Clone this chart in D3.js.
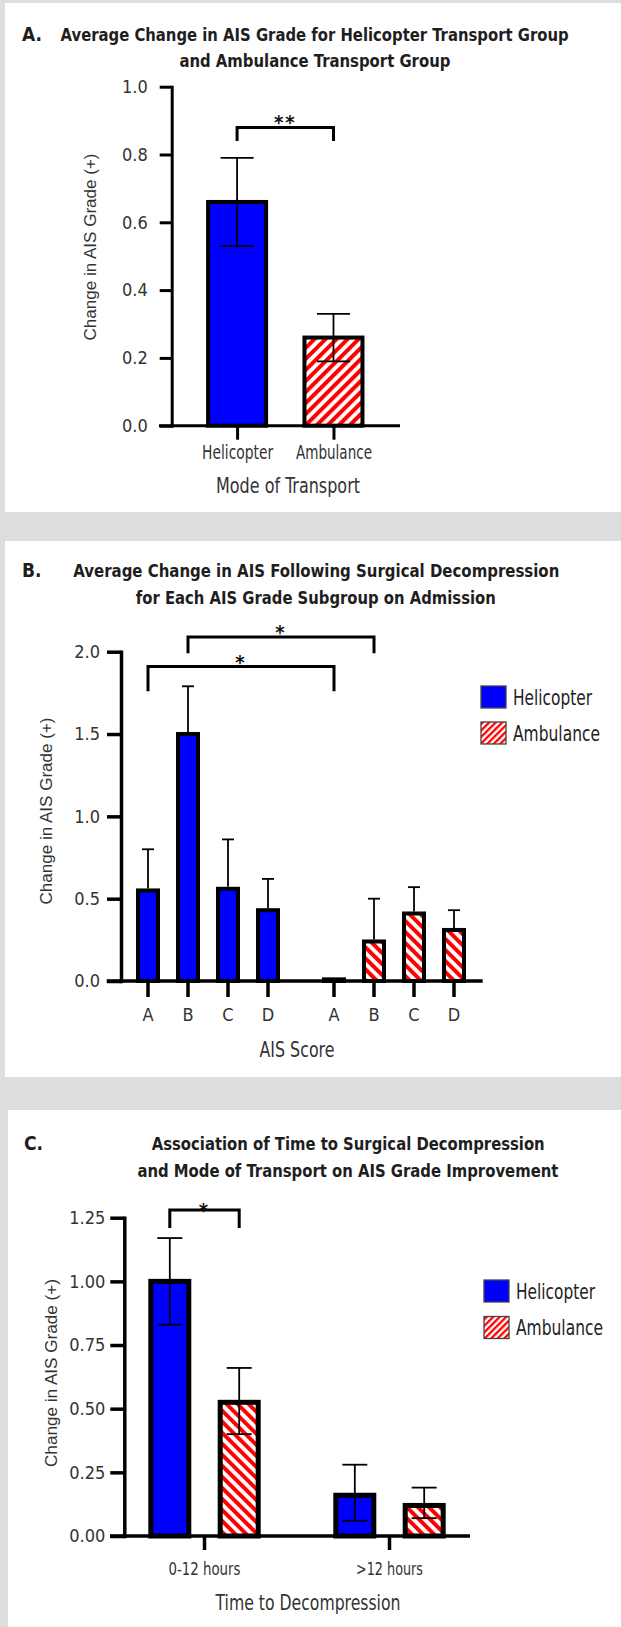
<!DOCTYPE html>
<html>
<head>
<meta charset="utf-8">
<script src="https://cdn.jsdelivr.net/npm/d3@7"></script>
<style>
  body { margin: 0; background: #dcdddf; }
  svg { display: block; }
</style>
</head>
<body>
<div id="chart"></div>
<script>
const NARROW = '"Liberation Sans Narrow", "DejaVu Sans Condensed", sans-serif';
const REGULAR = '"Liberation Sans", "DejaVu Sans", sans-serif';
const BLUE = '#0000ff';
const RED = '#ff0000';

// ---- data: panel A (mode of transport)
const transportModes = ['Helicopter', 'Ambulance'];
const modeMeans = [0.66, 0.26];
const modeErrLow = [0.53, 0.19];
const modeErrHigh = [0.79, 0.33];
const modeTicks = [0, 0.2, 0.4, 0.6, 0.8, 1.0];
const modeSig = [{ from: 'Helicopter', to: 'Ambulance', top: 0.88, leg: 0.84, mark: '**' }];

// ---- data: panel B (AIS grade on admission)
const aisGrades = ['A', 'B', 'C', 'D'];
const heliByGrade = [0.55, 1.50, 0.56, 0.43];
const heliByGradeErr = [0.80, 1.79, 0.86, 0.62];
const ambByGrade = [0.01, 0.24, 0.41, 0.31];
const ambByGradeErr = [null, 0.50, 0.57, 0.43];
const gradeTicks = [0, 0.5, 1.0, 1.5, 2.0];
const gradeSig = [
  { from: ['Helicopter', 'A'], to: ['Ambulance', 'A'], top: 1.91, leg: 1.76, mark: '*' },
  { from: ['Helicopter', 'B'], to: ['Ambulance', 'B'], top: 2.09, leg: 1.99, mark: '*' }
];

// ---- data: panel C (time to decompression)
const timeGroups = ['0-12 hours', '>12 hours'];
const heliByTime = [1.00, 0.16];
const heliByTimeLow = [0.83, 0.06];
const heliByTimeHigh = [1.17, 0.28];
const ambByTime = [0.525, 0.12];
const ambByTimeLow = [0.40, 0.07];
const ambByTimeHigh = [0.66, 0.19];
const timeTicks = [0, 0.25, 0.5, 0.75, 1.0, 1.25];
const timeSig = [{ group: '0-12 hours', top: 1.28, leg: 1.21, mark: '*' }];

// rendered widths of the condensed labels in the original figure
const modeLabelWidth = { Helicopter: 71, Ambulance: 76 };
const legendLabelWidth = { Helicopter: 79, Ambulance: 87 };
const timeLabelWidth = { '0-12 hours': 72, '>12 hours': 67 };

const svg = d3.select('#chart').append('svg')
  .attr('width', 621)
  .attr('height', 1627);

svg.append('rect').attr('width', 621).attr('height', 1627).attr('fill', '#dcdddf');

// white cards
[[5, 3, 616, 509], [5, 541, 616, 536], [8, 1110, 613, 517]].forEach(([x, y, w, h]) => {
  svg.append('rect').attr('x', x).attr('y', y).attr('width', w).attr('height', h).attr('fill', '#fff');
});

// hatch patterns
const defs = svg.append('defs');
function hatch(id, angle, period, stripe) {
  const p = defs.append('pattern')
    .attr('id', id)
    .attr('patternUnits', 'userSpaceOnUse')
    .attr('width', period)
    .attr('height', period)
    .attr('patternTransform', `rotate(${angle})`);
  p.append('rect').attr('width', period).attr('height', period).attr('fill', '#fff');
  p.append('rect').attr('width', stripe).attr('height', period).attr('fill', RED);
}
hatch('hatchUp', 45, 7.8, 4);
hatch('hatchDown', -45, 7.8, 4);
hatch('hatchLegend', 45, 4.6, 2.3);

const fillFor = (mode, dir) => mode === 'Helicopter' ? BLUE : `url(#${dir})`;

// helpers
function yAxis(x, scale, ticks, fmt, size, pad, width) {
  const g = svg.append('g')
    .attr('transform', `translate(${x},0)`)
    .call(d3.axisLeft(scale)
      .tickValues(ticks)
      .tickFormat(d3.format(fmt))
      .tickSize(size)
      .tickSizeOuter(0)
      .tickPadding(pad));
  g.select('.domain').attr('stroke', '#000').attr('stroke-width', width).attr('stroke-linecap', 'square');
  g.selectAll('.tick line').attr('stroke', '#000').attr('stroke-width', width);
  g.selectAll('.tick text')
    .attr('font-family', NARROW)
    .attr('font-size', 18)
    .attr('fill', '#333');
}

function baseLine(x1, x2, y, width) {
  svg.append('line')
    .attr('x1', x1).attr('x2', x2)
    .attr('y1', y).attr('y2', y)
    .attr('stroke', '#000')
    .attr('stroke-width', width);
}

function label(text, x, y, opts = {}) {
  const t = svg.append('text')
    .attr('x', x).attr('y', y)
    .attr('text-anchor', opts.anchor || 'middle')
    .attr('font-family', opts.family || NARROW)
    .attr('font-size', opts.size || 18)
    .attr('font-weight', opts.weight || 'normal')
    .attr('fill', opts.fill || '#222')
    .text(text);
  if (opts.len) t.attr('textLength', opts.len).attr('lengthAdjust', 'spacingAndGlyphs');
  if (opts.rotate) t.attr('transform', `rotate(-90,${x},${y})`).attr('dominant-baseline', 'central');
  return t;
}

function title(text, left, width, y) {
  return label(text, left + width / 2, y, { size: 18, weight: 'bold', len: width, fill: '#1e1e1e' });
}

function bracket(x1, x2, yTop, yLeg, mark, markGap) {
  svg.append('path')
    .attr('d', `M${x1},${yLeg}V${yTop}H${x2}V${yLeg}`)
    .attr('fill', 'none')
    .attr('stroke', '#000')
    .attr('stroke-width', 3);
  label(mark, (x1 + x2) / 2, yTop + markGap, { size: 20, weight: 'bold', fill: '#111' })
    .attr('letter-spacing', 2);
}

function errorBar(x, yLo, yHi, half) {
  const g = svg.append('g').attr('stroke', '#000').attr('stroke-width', 1.8);
  g.append('line').attr('x1', x).attr('x2', x).attr('y1', yLo).attr('y2', yHi);
  g.append('line').attr('x1', x - half).attr('x2', x + half).attr('y1', yHi).attr('y2', yHi);
  return g;
}

function legend(x, y, gap) {
  transportModes.forEach((m, i) => {
    svg.append('rect')
      .attr('x', x).attr('y', y + i * gap)
      .attr('width', 25).attr('height', 22)
      .attr('fill', fillFor(m, 'hatchLegend'))
      .attr('stroke', '#444')
      .attr('stroke-width', 1.3);
    label(m, x + 32, y + i * gap + 18.5, { anchor: 'start', size: 21, len: legendLabelWidth[m] });
  });
}

// ================= Panel A =================
label('A.', 22, 41, { anchor: 'start', size: 19, weight: 'bold', fill: '#1e1e1e' });
title('Average Change in AIS Grade for Helicopter Transport Group', 60.6, 508, 41);
title('and Ambulance Transport Group', 179.4, 271, 67);

const yA = d3.scaleLinear().domain([0, 1]).range([425.7, 86.7]);
const xA = d3.scalePoint().domain(transportModes).range([159, 400]).padding(0.75).align(0.54);

svg.selectAll('.barA')
  .data(transportModes)
  .enter()
  .append('rect')
  .attr('class', 'barA')
  .attr('x', d => xA(d) - 29)
  .attr('width', 58)
  .attr('y', (d, i) => yA(modeMeans[i]))
  .attr('height', (d, i) => yA(0) - yA(modeMeans[i]))
  .attr('fill', d => fillFor(d, 'hatchUp'))
  .attr('stroke', '#000')
  .attr('stroke-width', 4);

transportModes.forEach((m, i) => {
  const g = errorBar(xA(m), yA(modeErrLow[i]), yA(modeErrHigh[i]), 16.5);
  g.append('line').attr('x1', xA(m) - 16.5).attr('x2', xA(m) + 16.5)
    .attr('y1', yA(modeErrLow[i])).attr('y2', yA(modeErrLow[i]));
});

yAxis(171.7, yA, modeTicks, '.1f', 12, 12, 3);
baseLine(159, 400, yA(0), 3);

const xAxisA = svg.append('g')
  .attr('transform', `translate(0,${yA(0)})`)
  .call(d3.axisBottom(xA).tickSize(14).tickSizeOuter(0).tickPadding(6));
xAxisA.select('.domain').remove();
xAxisA.selectAll('.tick line').attr('stroke', '#000').attr('stroke-width', 3);
xAxisA.selectAll('.tick text')
  .attr('font-family', NARROW)
  .attr('font-size', 19)
  .attr('fill', '#333')
  .attr('textLength', d => modeLabelWidth[d])
  .attr('lengthAdjust', 'spacingAndGlyphs');

modeSig.forEach(s => bracket(xA(s.from), xA(s.to), yA(s.top), yA(s.leg), s.mark, 2));

label('Change in AIS Grade (+)', 90, 247, { family: REGULAR, size: 17, rotate: true, fill: '#333', len: 187 });
label('Mode of Transport', 288, 492.5, { size: 21, fill: '#333', len: 144 });

// ================= Panel B =================
label('B.', 22, 577, { anchor: 'start', size: 19, weight: 'bold', fill: '#1e1e1e' });
title('Average Change in AIS Following Surgical Decompression', 73.3, 486, 577);
title('for Each AIS Grade Subgroup on Admission', 135.8, 360, 604);

const yB = d3.scaleLinear().domain([0, 2]).range([981, 651.7]);
const xB0 = d3.scaleBand().domain(transportModes).range([128, 474]).paddingInner(0.1398);
const xB1 = d3.scaleBand().domain(aisGrades).range([0, xB0.bandwidth()]);
const xB = (mode, grade) => xB0(mode) + xB1(grade) + xB1.bandwidth() / 2;

const gradeRows = [];
transportModes.forEach(m => aisGrades.forEach((g, i) => {
  gradeRows.push({
    mode: m,
    grade: g,
    value: m === 'Helicopter' ? heliByGrade[i] : ambByGrade[i],
    err: m === 'Helicopter' ? heliByGradeErr[i] : ambByGradeErr[i]
  });
}));

svg.selectAll('.barB')
  .data(gradeRows)
  .enter()
  .append('rect')
  .attr('class', 'barB')
  .attr('x', d => xB(d.mode, d.grade) - 10)
  .attr('width', 20)
  .attr('y', d => yB(d.value))
  .attr('height', d => yB(0) - yB(d.value))
  .attr('fill', d => fillFor(d.mode, 'hatchDown'))
  .attr('stroke', '#000')
  .attr('stroke-width', 4);

gradeRows.filter(d => d.err != null).forEach(d => {
  errorBar(xB(d.mode, d.grade), yB(d.value) - 2, yB(d.err), 6);
});

yAxis(121, yB, gradeTicks, '.1f', 14, 7, 3.5);
baseLine(106.7, 482.7, yB(0), 3.5);

// x ticks (grouped, with a gap between modes)
svg.selectAll('.tickB')
  .data(gradeRows)
  .enter()
  .append('line')
  .attr('class', 'tickB')
  .attr('x1', d => xB(d.mode, d.grade))
  .attr('x2', d => xB(d.mode, d.grade))
  .attr('y1', yB(0))
  .attr('y2', yB(0) + 16)
  .attr('stroke', '#000')
  .attr('stroke-width', 3.5);

svg.selectAll('.tickLabelB')
  .data(gradeRows)
  .enter()
  .append('text')
  .attr('class', 'tickLabelB')
  .attr('x', d => xB(d.mode, d.grade))
  .attr('y', yB(0) + 39.5)
  .attr('text-anchor', 'middle')
  .attr('font-family', NARROW)
  .attr('font-size', 18)
  .attr('fill', '#333')
  .text(d => d.grade);

gradeSig.forEach(s => bracket(xB(...s.from), xB(...s.to), yB(s.top), yB(s.leg), s.mark, 2));

legend(481, 686, 36);

label('Change in AIS Grade (+)', 46, 811, { family: REGULAR, size: 17, rotate: true, fill: '#333', len: 187 });
label('AIS Score', 297, 1056.5, { size: 21, fill: '#333', len: 75 });

// ================= Panel C =================
label('C.', 24, 1150, { anchor: 'start', size: 19, weight: 'bold', fill: '#1e1e1e' });
title('Association of Time to Surgical Decompression', 151.7, 393, 1150);
title('and Mode of Transport on AIS Grade Improvement', 137.4, 421, 1177);

const yC = d3.scaleLinear().domain([0, 1.25]).range([1536, 1217.7]);
const xC0 = d3.scaleBand().domain(timeGroups).range([112, 482]);
const xC1 = d3.scaleBand().domain(transportModes).range([0, xC0.bandwidth()]).paddingOuter(0.333);
const xC = (group, mode) => xC0(group) + xC1(mode) + xC1.bandwidth() / 2;

const timeRows = [];
timeGroups.forEach((t, i) => transportModes.forEach(m => {
  const heli = m === 'Helicopter';
  timeRows.push({
    group: t,
    mode: m,
    value: heli ? heliByTime[i] : ambByTime[i],
    low: heli ? heliByTimeLow[i] : ambByTimeLow[i],
    high: heli ? heliByTimeHigh[i] : ambByTimeHigh[i]
  });
}));

svg.selectAll('.barC')
  .data(timeRows)
  .enter()
  .append('rect')
  .attr('class', 'barC')
  .attr('x', d => xC(d.group, d.mode) - 19)
  .attr('width', 38)
  .attr('y', d => yC(d.value))
  .attr('height', d => yC(0) - yC(d.value))
  .attr('fill', d => fillFor(d.mode, 'hatchDown'))
  .attr('stroke', '#000')
  .attr('stroke-width', 5);

timeRows.forEach(d => {
  const x = xC(d.group, d.mode);
  const g = errorBar(x, yC(d.low), yC(d.high), 12.5);
  g.append('line').attr('x1', x - 12.5).attr('x2', x + 12.5)
    .attr('y1', yC(d.low)).attr('y2', yC(d.low));
});

yAxis(124.3, yC, timeTicks, '.2f', 14, 5, 3.5);
baseLine(110, 470, yC(0), 3.5);

const xAxisC = svg.append('g')
  .attr('transform', `translate(0,${yC(0)})`)
  .call(d3.axisBottom(xC0).tickSize(14).tickSizeOuter(0).tickPadding(12.5));
xAxisC.select('.domain').remove();
xAxisC.selectAll('.tick line').attr('stroke', '#000').attr('stroke-width', 3.5);
xAxisC.selectAll('.tick text')
  .attr('font-family', NARROW)
  .attr('font-size', 18)
  .attr('fill', '#333')
  .attr('textLength', d => timeLabelWidth[d])
  .attr('lengthAdjust', 'spacingAndGlyphs');

timeSig.forEach(s => bracket(xC(s.group, 'Helicopter'), xC(s.group, 'Ambulance'), yC(s.top), yC(s.leg), s.mark, 7));

legend(484, 1280, 36.5);

label('Change in AIS Grade (+)', 51, 1373, { family: REGULAR, size: 17, rotate: true, fill: '#333', len: 188 });
label('Time to Decompression', 308, 1609.5, { size: 21, fill: '#333', len: 185 });
</script>
</body>
</html>
